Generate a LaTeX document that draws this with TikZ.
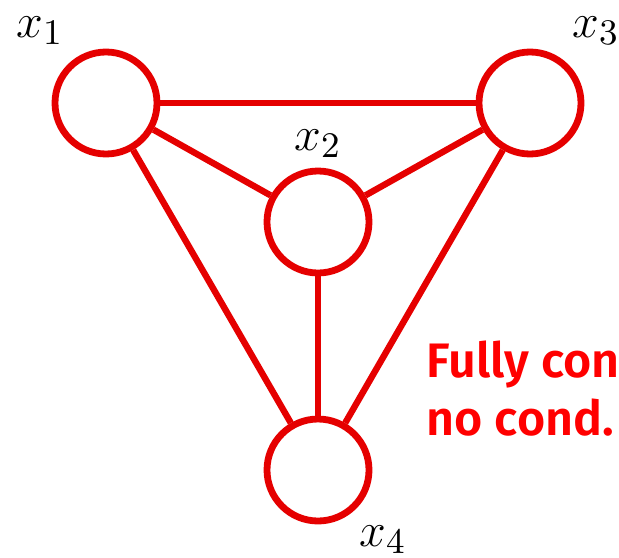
\documentclass[tikz,border=0pt]{standalone}
\usepackage{fontspec}
\newfontfamily\notefont{Fira Sans SemiBold}
\begin{document}
\begin{tikzpicture}[x=0.25pt,y=-0.25pt]
	\tikzset{
		var/.style={circle,draw=red!90!black,line width=1.7pt,minimum size=25.5pt,inner sep=0pt},
		edge/.style={line width=1.6pt,color=red!90!black},
		lbl/.style={font=\fontsize{12.5}{15}\selectfont,inner sep=0pt},
		note/.style={anchor=base west,inner sep=0pt,text=red,font=\notefont\fontsize{12.1}{15}\selectfont}
	}
	\useasboundingbox (0,0) rectangle (619,557);
	\node[var] (X1) at (106,103) {};
	\node[var] (X3) at (530,103) {};
	\node[var] (X2) at (318,222) {};
	\node[var] (X4) at (318,470) {};
	\draw[edge] (X1) -- (X3);
	\draw[edge] (X1) -- (X2);
	\draw[edge] (X3) -- (X2);
	\draw[edge] (X1) -- (X4);
	\draw[edge] (X3) -- (X4);
	\draw[edge] (X2) -- (X4);
	\foreach \p/\x/\y/\i in {L1/40/31/1,L3/596/31/3,L2/318/144/2,L4/383/540/4}{
		\node[lbl] (\p) at (\x,\y) {$x_{\i}$};
	}
	\node[note] (T1) at (426,377) {Fully con};
	\node[note] (T2) at (426,435) {no cond.};
\end{tikzpicture}
\end{document}
